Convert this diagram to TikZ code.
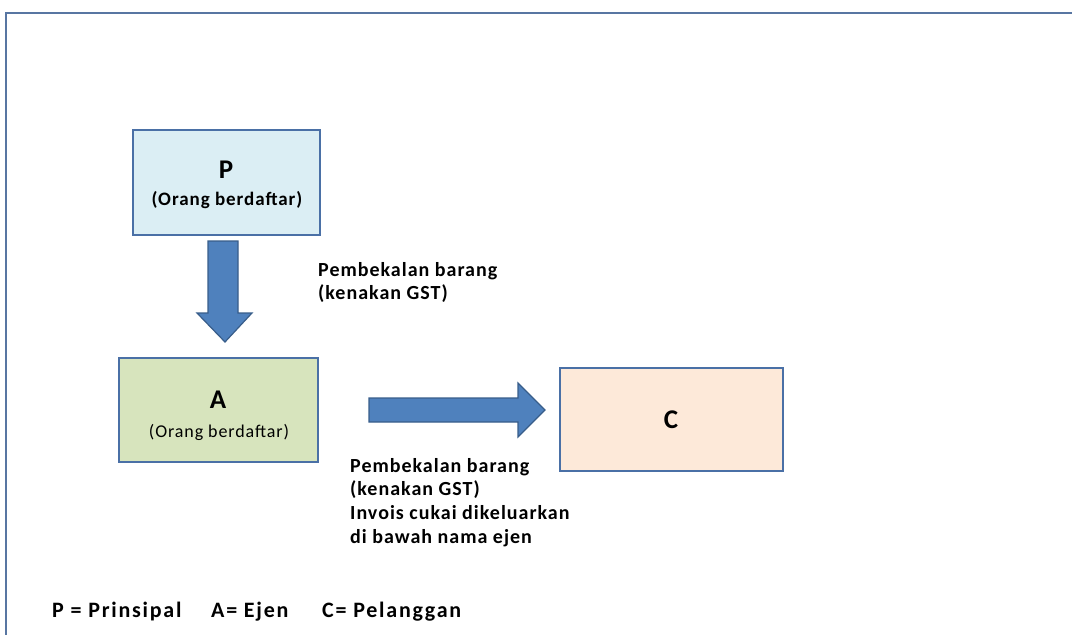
\documentclass[tikz,border=0pt]{standalone}
\usepackage{fontspec}
\setmainfont{Carlito}
\newfontfamily\lblfont[LetterSpace=5]{Carlito}
\newfontfamily\subfont[LetterSpace=5]{Carlito}
\newfontfamily\legfont[LetterSpace=8]{Carlito}
\begin{document}
\begin{tikzpicture}[x=1pt,y=-1pt,
  box/.style={draw=boxline,line width=2.2pt,minimum width=#1,inner sep=0pt},
  big/.style={font=\fontsize{27}{27}\selectfont\bfseries},
  blockarrow/.style={fill=arrfill,draw=arrline,line width=1.2pt,line join=miter},
  lbl/.style={anchor=north west,align=left,inner sep=0pt,font=\lblfont\fontsize{20}{23.6}\selectfont\bfseries}]
\definecolor{boxline}{RGB}{74,112,166}
\definecolor{frame}{RGB}{88,118,162}
\definecolor{arrfill}{RGB}{79,129,189}
\definecolor{arrline}{RGB}{56,93,138}
\definecolor{pfill}{RGB}{219,238,244}
\definecolor{afill}{RGB}{215,228,189}
\definecolor{cfill}{RGB}{253,233,217}
\useasboundingbox (0,0) rectangle (1072,635);
% frame
\draw[frame,line width=2.6pt] (6,640) -- (6,13) -- (1080,13);
% boxes
\node[box=187pt,fill=pfill,minimum height=105pt] (P) at (226.5,182.5) {};
\node[box=199pt,fill=afill,minimum height=104pt] (A) at (218.5,410) {};
\node[box=223pt,fill=cfill,minimum height=103pt] (C) at (671.5,419.5) {};
\node[big] (Pt) at (226,170) {P};
\node[font=\subfont\fontsize{19}{19}\selectfont\bfseries] (Ps) at (227,200) {(Orang berdaftar)};
\node[big] (At) at (218,400) {A};
\node[font=\subfont\fontsize{18}{18}\selectfont] (As) at (219,432) {(Orang berdaftar)};
\node[big] (Ct) at (671,420) {C};
% block arrows
\draw[blockarrow] (208,241) -- (238,241) -- (238,313) -- (252,313) -- (225,342) -- (197,313) -- (208,313) -- cycle;
\draw[blockarrow] (369,398) -- (518,398) -- (518,383) -- (545,410) -- (518,437) -- (518,422) -- (369,422) -- cycle;
% labels
\node[lbl] (L1) at (318,262) {Pembekalan barang\\(kenakan GST)};
\node[lbl] (L2) at (350,458) {Pembekalan barang\\(kenakan GST)\\Invois cukai dikeluarkan\\di bawah nama ejen};
\node[anchor=west,inner sep=0pt,font=\legfont\fontsize{22}{22}\selectfont\bfseries] (Leg) at (52,612) {\makebox[159pt][l]{P = Prinsipal}\makebox[111pt][l]{A= Ejen}C= Pelanggan};
\end{tikzpicture}
\end{document}
